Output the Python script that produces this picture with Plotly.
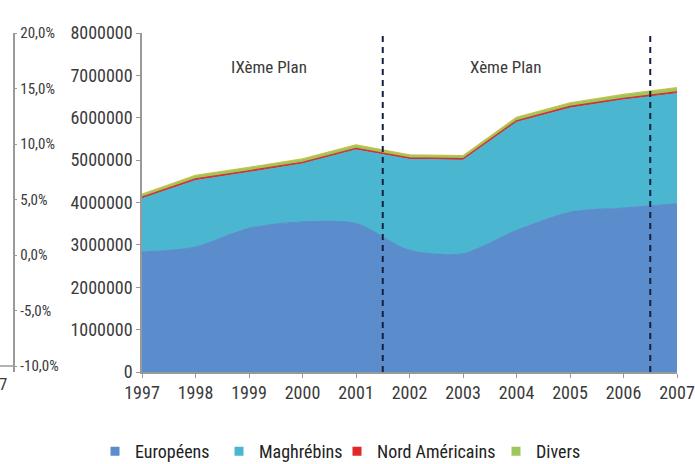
import plotly.graph_objects as go

years = [1997, 1998, 1999, 2000, 2001, 2002, 2003, 2004, 2005, 2006, 2007]
europeens = [2830000, 2950000, 3390000, 3540000, 3500000, 2870000, 2790000, 3340000, 3770000, 3870000, 3970000]
maghrebins = [1260000, 1570000, 1320000, 1370000, 1740000, 2150000, 2210000, 2550000, 2460000, 2550000, 2600000]
nord_americains = [35000, 40000, 40000, 40000, 40000, 35000, 35000, 40000, 40000, 40000, 40000]
divers = [70000, 80000, 80000, 80000, 80000, 70000, 70000, 80000, 80000, 90000, 100000]

series_names = ["Européens", "Maghrébins", "Nord Américains", "Divers"]
series_values = [europeens, maghrebins, nord_americains, divers]
fill_colors = ["#5B8CCB", "#4BB6D0", "#E02828", "#9CC75E"]
line_colors = ["#5B8CCB", "#4BB6D0", "#E02828", "#C8C04A"]
shapes_line = ["spline", "linear", "linear", "linear"]

y_ticks = [0, 1000000, 2000000, 3000000, 4000000, 5000000, 6000000, 7000000, 8000000]
pct_ticks = [-10, -5, 0, 5, 10, 15, 20]
pct_labels = ["-10,0%", "-5,0%", "0,0%", "5,0%", "10,0%", "15,0%", "20,0%"]
plan_labels = ["IXème Plan", "Xème Plan"]
plan_label_x = [1999.37, 2003.8]
plan_bounds = [2001.5, 2006.5]

FONT = "Roboto Condensed, DejaVu Sans Condensed, sans-serif"
TXT = "#3a3a3a"

fig = go.Figure()
for name, vals, fc, lc, sh in zip(series_names, series_values, fill_colors, line_colors, shapes_line):
    fig.add_trace(go.Scatter(
        x=years, y=vals, name=name, stackgroup="one", mode="lines",
        line=dict(color=lc, width=1.2, shape=sh, smoothing=0.8),
        fillcolor=fc, showlegend=False, hoverinfo="x+y+name"))

# dummy trace so the percentage axis is drawn
fig.add_trace(go.Scatter(x=[None], y=[None], yaxis="y2", showlegend=False, hoverinfo="skip"))

ml, mr = 0, 18
pw = 695 - ml - mr
legend_px = [95, 219, 337, 496]
for i, (name, fc) in enumerate(zip(series_names, fill_colors)):
    lg = "legend" if i == 0 else f"legend{i+1}"
    fig.add_trace(go.Scatter(
        x=[None], y=[None], mode="markers", name=name, legend=lg,
        marker=dict(symbol="square", size=9, color=fc), showlegend=True))

legend_common = dict(orientation="h", yanchor="middle", y=-0.235, xanchor="left",
                     font=dict(family=FONT, size=18, color="#222"),
                     bgcolor="rgba(0,0,0,0)", itemwidth=30)
legends = {}
for i, px in enumerate(legend_px):
    key = "legend" if i == 0 else f"legend{i+1}"
    legends[key] = dict(legend_common, x=(px - ml) / pw)

x0 = (142 - ml) / pw
x1 = 1.0

shapes = []
for xb in plan_bounds:
    shapes.append(dict(type="line", xref="x", yref="paper", x0=xb, x1=xb, y0=0, y1=1,
                       line=dict(color="#142040", width=2, dash="6px,5px")))
# fragment of neighbouring chart's axis at far left
shapes.append(dict(type="line", xref="paper", yref="y2", x0=0, x1=13.5 / pw, y0=-10, y1=-10,
                   line=dict(color="#999", width=1.5)))

annotations = []
for lab, xl in zip(plan_labels, plan_label_x):
    annotations.append(dict(x=xl, y=7200000, xref="x", yref="y", text=lab, showarrow=False,
                            font=dict(family=FONT, size=17, color=TXT)))
annotations.append(dict(x=0, y=0.0, xref="paper", yref="paper", text="7", showarrow=False,
                        xanchor="left", yanchor="top", xshift=-3, font=dict(family=FONT, size=17, color=TXT)))

axis_font = dict(family=FONT, size=18, color=TXT)
fig.update_layout(
    template="none",
    width=695, height=464,
    margin=dict(l=ml, r=mr, t=33, b=92, autoexpand=False),
    paper_bgcolor="white", plot_bgcolor="white",
    font=dict(family=FONT, size=18, color=TXT),
    xaxis=dict(domain=[x0, x1], range=[1997, 2007], tickvals=years, ticktext=[str(y) for y in years],
               showline=True, linecolor="#999", linewidth=1.5, ticks="outside", ticklen=4,
               tickcolor="#999", showgrid=False, zeroline=False, tickfont=axis_font, automargin=False),
    yaxis=dict(range=[0, 8000000], tickvals=y_ticks, tickformat="d", showline=True, linecolor="#999",
               linewidth=1.5, ticks="outside", ticklen=4, tickcolor="#999", showgrid=False, zeroline=False,
               tickfont=axis_font, automargin=False),
    yaxis2=dict(overlaying="y", anchor="free", position=13.5 / pw, side="right",
                range=[-10.54, 20], tickvals=pct_ticks, ticktext=pct_labels, showline=True,
                linecolor="#999", linewidth=1.5, ticks="outside", ticklen=3, tickcolor="#999",
                showgrid=False, zeroline=False, tickfont=dict(family=FONT, size=15, color=TXT),
                automargin=False),
    shapes=shapes, annotations=annotations,
    **legends,
)

fig.write_html("out.html", config={"displayModeBar": False},
               post_script="document.body.style.margin='0';document.body.style.overflow='hidden';")
